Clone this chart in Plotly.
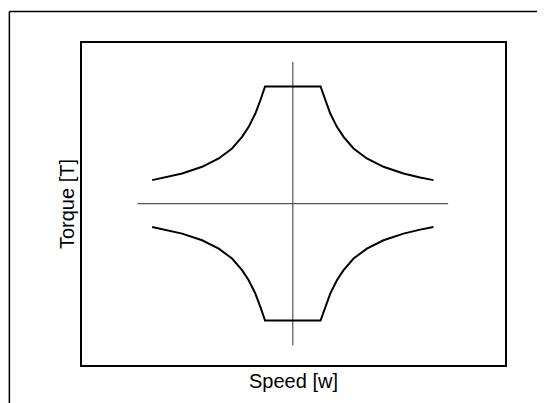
import plotly.graph_objects as go

# Constant-power torque/speed envelope (one quadrant)
speed_pos = [1.0, 1.17, 1.35, 1.59, 1.83, 2.19, 2.67, 3.27, 3.99, 4.59, 5.07]
torque_pos = [1.0, 0.882, 0.769, 0.655, 0.569, 0.47, 0.385, 0.314, 0.257, 0.223, 0.20]

# extents of the thin cross through the origin
axis_speed_extent = [-5.6, 5.6]
axis_torque_extent = [-1.21, 1.21]

# mirror the quadrant into full upper / lower curves
curve_x = [-w for w in reversed(speed_pos)] + speed_pos
upper_y = list(reversed(torque_pos)) + torque_pos
lower_y = [-t for t in upper_y]

fig = go.Figure()

# origin cross
fig.add_trace(go.Scatter(x=axis_speed_extent, y=[0, 0], mode="lines",
                         line=dict(color="#555555", width=1.2), showlegend=False))
fig.add_trace(go.Scatter(x=[0, 0], y=axis_torque_extent, mode="lines",
                         line=dict(color="#555555", width=1.2), showlegend=False))

# motoring / braking envelopes
fig.add_trace(go.Scatter(x=curve_x, y=upper_y, mode="lines",
                         line=dict(color="black", width=2), showlegend=False))
fig.add_trace(go.Scatter(x=curve_x, y=lower_y, mode="lines",
                         line=dict(color="black", width=2), showlegend=False))

axis_style = dict(showgrid=False, zeroline=False, showticklabels=False, ticks="",
                  showline=True, mirror=True, linecolor="black", linewidth=1.5)

fig.update_xaxes(range=[-7.6, 7.65], title=dict(text="Speed [w]", standoff=8), **axis_style)
fig.update_yaxes(range=[-1.379, 1.371], title=dict(text="Torque [T]", standoff=0), **axis_style)

# outer frame (only left and top edges visible in the reference)
fig.add_shape(type="line", xref="paper", yref="paper", x0=-0.1717, x1=1.15,
              y0=1.098, y1=1.098, line=dict(color="black", width=1.5))
fig.add_shape(type="line", xref="paper", yref="paper", x0=-0.1717, x1=-0.1717,
              y0=1.098, y1=-0.2, line=dict(color="black", width=1.5))

fig.update_layout(
    width=545, height=403,
    margin=dict(l=74, r=48, t=35, b=46),
    paper_bgcolor="white", plot_bgcolor="white",
    font=dict(family="Liberation Sans, Arial, sans-serif", size=16.5, color="black"),
)

fig.write_html("out.html")
